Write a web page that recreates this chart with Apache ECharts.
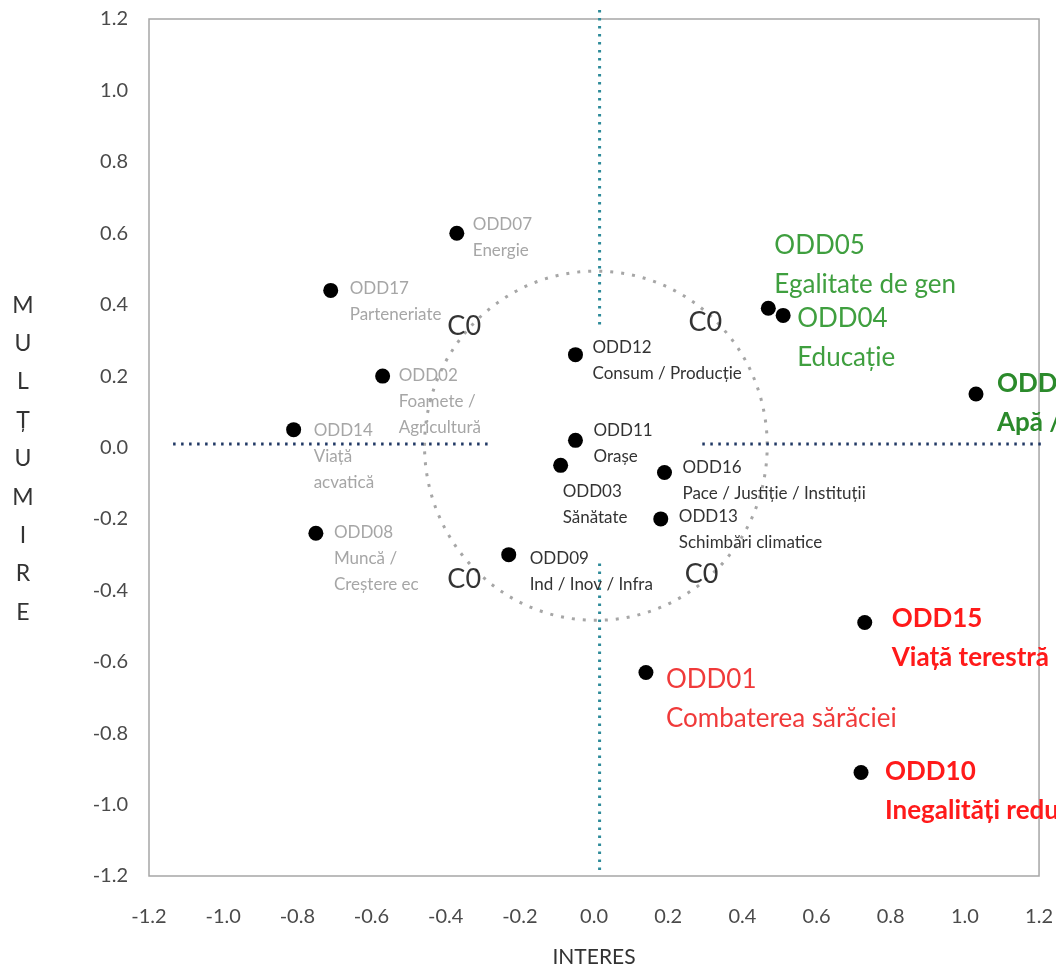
<!DOCTYPE html>
<html>
<head>
<meta charset="utf-8">
<script src="https://cdn.jsdelivr.net/npm/echarts@6/dist/echarts.min.js"></script>
<style>
  html, body { margin: 0; padding: 0; background: #fff; }
  #chart { width: 1056px; height: 973px; }
</style>
</head>
<body>
<div id="chart"></div>
<script>
// ---------------- DATA ----------------
const codes = ['ODD07','ODD17','ODD02','ODD14','ODD08','ODD12','ODD11','ODD03','ODD16','ODD13','ODD09','ODD05','ODD04','ODD06','ODD15','ODD01','ODD10'];
const names = ['Energie','Parteneriate','Foamete /\nAgricultură','Viață\nacvatică','Muncă /\nCreștere ec','Consum / Producție','Orașe','Sănătate','Pace / Justiție / Instituții','Schimbări climatice','Ind / Inov / Infra','Egalitate de gen','Educație','Apă / Canalizare','Viață terestră','Combaterea sărăciei','Inegalități reduse'];
const interes   = [-0.37,-0.71,-0.57,-0.81,-0.75,-0.05,-0.05,-0.09,0.19,0.18,-0.23,0.47,0.51,1.03,0.73,0.14,0.72];
const multumire = [ 0.60, 0.44, 0.20, 0.05,-0.24, 0.26, 0.02,-0.05,-0.07,-0.20,-0.30,0.39,0.37,0.15,-0.49,-0.63,-0.91];

const axisTicks = [-1.2,-1.0,-0.8,-0.6,-0.4,-0.2,0.0,0.2,0.4,0.6,0.8,1.0,1.2];
const xAxisTitle = 'INTERES';
const yAxisTitle = 'MULȚUMIRE';

const c0Labels = ['C0','C0','C0','C0'];
const c0X = [-0.35, 0.30, -0.35, 0.29];
const c0Y = [ 0.34, 0.35, -0.37, -0.355];

const circleCenter = [0.005, 0.005];
const circleRadius = [0.462, 0.489];

const hLineY = 0.01;
const hLeftX = [-1.135, -0.274];
const hRightX = [0.292, 1.32];
const vLineX = 0.015;
const vTopY = [1.225, 0.337];
const vBottomY = [-0.325, -1.186];

// ---------------- STYLES ----------------
const grayCodes  = ['ODD07','ODD17','ODD02','ODD14','ODD08'];
const blackCodes = ['ODD12','ODD11','ODD03','ODD16','ODD13','ODD09'];
const greenCodes = ['ODD05','ODD04','ODD06'];
const redCodes   = ['ODD15','ODD01','ODD10'];
const boldCodes  = ['ODD06','ODD15','ODD10'];

// label offset (text left edge, block centre) relative to dot centre, px
const labelOffset = {
  ODD07:[16,4], ODD17:[19,11], ODD02:[16,25], ODD14:[20,27], ODD08:[18,25],
  ODD12:[17,6], ODD11:[18,3], ODD03:[2,39], ODD16:[18,8], ODD13:[18,11], ODD09:[21,17],
  ODD05:[6,-43], ODD04:[14,23], ODD06:[21,9], ODD15:[27,16], ODD01:[20,27], ODD10:[24,19]
};

const FONT = 'Lato';
const DOT = 15;
const R = DOT / 2;

function labelStyle(code) {
  const off = labelOffset[code];
  const base = { show: true, position: [off[0] + R, off[1] + R], align: 'left', verticalAlign: 'middle', fontFamily: FONT };
  if (grayCodes.includes(code))  return Object.assign(base, { color: '#a6a6a6', fontSize: 17, lineHeight: 26 });
  if (blackCodes.includes(code)) return Object.assign(base, { color: '#333333', fontSize: 17, lineHeight: 26 });
  const bold = boldCodes.includes(code) ? 'bold' : 'normal';
  if (greenCodes.includes(code)) return Object.assign(base, { color: bold === 'bold' ? '#2b8a2b' : '#3f9f3f', fontSize: 26, lineHeight: 39, fontWeight: bold });
  return Object.assign(base, { color: bold === 'bold' ? '#ff1a1a' : '#f03a3a', fontSize: 26, lineHeight: 39, fontWeight: bold });
}

const points = codes.map((c, i) => ({
  name: c,
  value: [interes[i], multumire[i]],
  label: Object.assign(labelStyle(c), { formatter: c + '\n' + names[i] })
}));

const c0Data = c0Labels.map((t, i) => ({ name: t, value: [c0X[i], c0Y[i]] }));

function dottedLine(data, color) {
  return {
    type: 'line', data: data, symbol: 'none', clip: false, silent: true, z: 1,
    lineStyle: { color: color, width: 3, type: [2.5, 5.5] }
  };
}

const chart = echarts.init(document.getElementById('chart'), null, { renderer: 'canvas' });
chart.setOption({
  animation: false,
  backgroundColor: '#ffffff',
  title: {
    text: yAxisTitle.split('').join('\n'),
    left: 18, top: 281, textAlign: 'center',
    textStyle: { color: '#333333', fontSize: 23, fontWeight: 'normal', fontFamily: FONT, lineHeight: 38.4, align: 'center' }
  },
  grid: { left: 149, right: 16, top: 19, bottom: 95, show: true, borderColor: '#a6a6a6', borderWidth: 1.5, backgroundColor: 'transparent' },
  xAxis: {
    type: 'value', min: axisTicks[0], max: axisTicks[axisTicks.length - 1], interval: 0.2,
    axisLine: { show: false }, axisTick: { show: false }, splitLine: { show: false },
    axisLabel: { color: '#4a4a4a', fontSize: 20, fontFamily: FONT, margin: 31, formatter: v => v.toFixed(1) },
    name: xAxisTitle, nameLocation: 'middle', nameGap: 71,
    nameTextStyle: { color: '#333333', fontSize: 21, fontFamily: FONT }
  },
  yAxis: {
    type: 'value', min: axisTicks[0], max: axisTicks[axisTicks.length - 1], interval: 0.2,
    axisLine: { show: false }, axisTick: { show: false }, splitLine: { show: false },
    axisLabel: { color: '#4a4a4a', fontSize: 20, fontFamily: FONT, margin: 21, formatter: v => v.toFixed(1) }
  },
  series: [
    {
      type: 'custom', silent: true, z: 1, clip: false,
      data: [[circleCenter[0], circleCenter[1], circleRadius[0], circleRadius[1]]],
      encode: { x: 0, y: 1 },
      renderItem: function (params, api) {
        const c = api.coord([api.value(0), api.value(1)]);
        const s = api.size([api.value(2), api.value(3)]);
        return {
          type: 'ellipse',
          shape: { cx: c[0], cy: c[1], rx: s[0], ry: s[1] },
          style: { fill: null, stroke: '#a6a6a6', lineWidth: 3, lineDash: [3, 8] }
        };
      }
    },
    dottedLine([[hLeftX[0], hLineY], [hLeftX[1], hLineY]], '#203864'),
    dottedLine([[hRightX[0], hLineY], [hRightX[1], hLineY]], '#203864'),
    dottedLine([[vLineX, vTopY[0]], [vLineX, vTopY[1]]], '#2e8b9a'),
    dottedLine([[vLineX, vBottomY[0]], [vLineX, vBottomY[1]]], '#2e8b9a'),
    {
      type: 'scatter', data: c0Data, symbolSize: 1, itemStyle: { color: 'transparent' }, silent: true, z: 3,
      label: { show: true, position: 'inside', formatter: '{b}', color: '#000000', fontSize: 27, fontFamily: FONT }
    },
    {
      type: 'scatter', data: points, symbol: 'circle', symbolSize: DOT, z: 5, clip: false,
      itemStyle: { color: '#000000', opacity: 1 }
    }
  ]
});
</script>
</body>
</html>
